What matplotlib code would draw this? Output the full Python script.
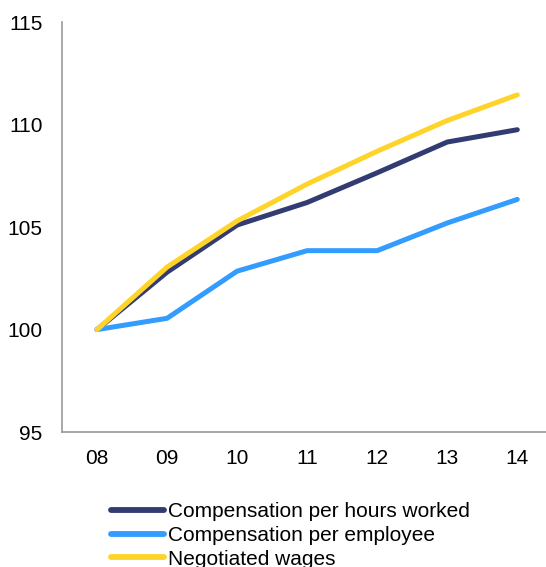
import matplotlib.pyplot as plt

plt.rcParams['font.family'] = ['Liberation Sans', 'DejaVu Sans']

years = ["08", "09", "10", "11", "12", "13", "14"]
comp_hours = [100, 102.8, 105.1, 106.2, 107.65, 109.15, 109.75]
comp_employee = [100, 100.55, 102.85, 103.85, 103.85, 105.2, 106.35]
negotiated = [100, 103.05, 105.3, 107.1, 108.7, 110.2, 111.45]

fig = plt.figure(figsize=(5.46, 5.67), dpi=100)
ax = fig.add_axes([0.1136, 0.238, 0.8864, 0.723])

x = range(len(years))
ax.plot(x, comp_hours, color='#333b73', lw=3.6, solid_capstyle='round',
        label='Compensation per hours worked')
ax.plot(x, comp_employee, color='#339cff', lw=3.6, solid_capstyle='round',
        label='Compensation per employee')
ax.plot(x, negotiated, color='#ffd42a', lw=3.6, solid_capstyle='round',
        label='Negotiated wages')

ax.set_xlim(-0.5, 6.41)
ax.set_ylim(95, 115)
ax.set_yticks([95, 100, 105, 110, 115])
ax.set_xticks(list(x))
ax.set_xticklabels(years)
ax.tick_params(length=0, labelsize=15, pad=12)
ax.tick_params(axis='y', pad=14)

for side in ['top', 'right']:
    ax.spines[side].set_visible(False)
for side in ['left', 'bottom']:
    ax.spines[side].set_color('#999999')
    ax.spines[side].set_linewidth(1.2)

leg = fig.legend(loc='upper left', bbox_to_anchor=(0.203, 0.114), frameon=False,
                 fontsize=15, handlelength=2.55, handletextpad=0.2,
                 labelspacing=0.22, borderaxespad=0, borderpad=0)
for line in leg.get_lines():
    line.set_linewidth(4.2)

fig.savefig('out.png', dpi=100)
